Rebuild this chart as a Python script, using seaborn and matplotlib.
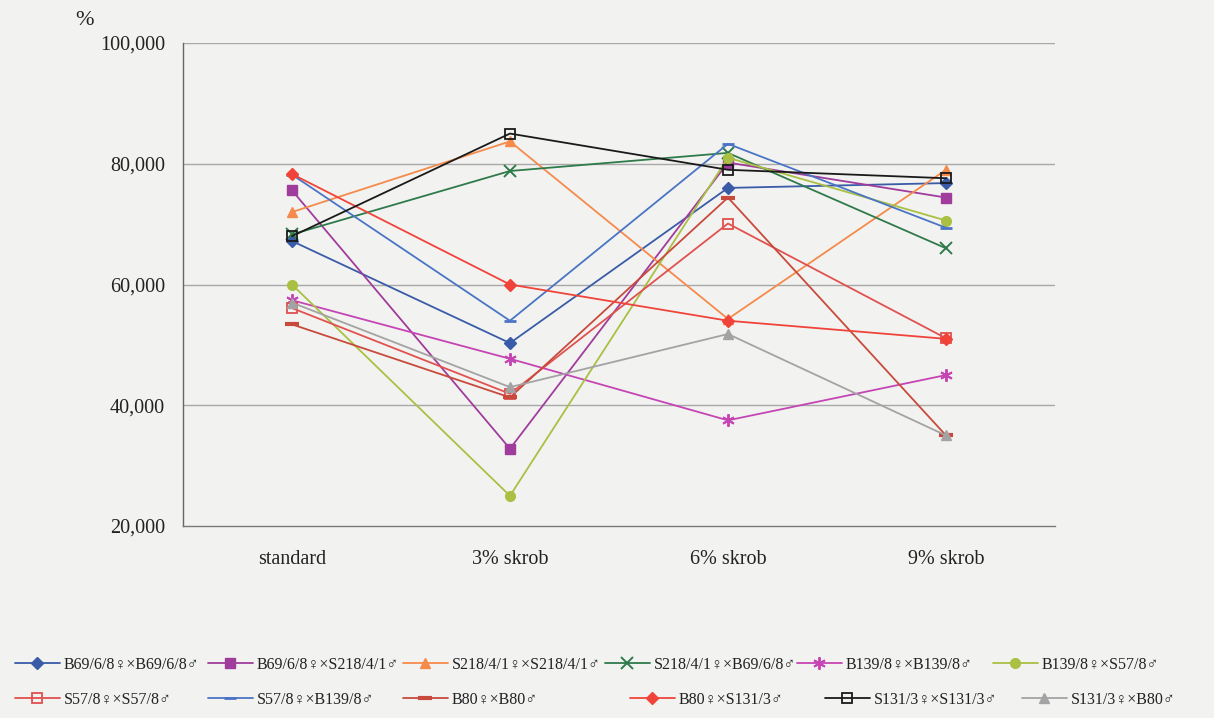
import matplotlib
matplotlib.use("Agg")
import matplotlib.pyplot as plt
from matplotlib.ticker import FixedLocator, FuncFormatter
import seaborn as sns
import pandas as pd

# --- data -------------------------------------------------------------
categories = ["standard", "3% skrob", "6% skrob", "9% skrob"]

series_names = [
    "B69/6/8♀×B69/6/8♂",
    "B69/6/8♀×S218/4/1♂",
    "S218/4/1♀×S218/4/1♂",
    "S218/4/1♀×B69/6/8♂",
    "B139/8♀×B139/8♂",
    "B139/8♀×S57/8♂",
    "S57/8♀×S57/8♂",
    "S57/8♀×B139/8♂",
    "B80♀×B80♂",
    "B80♀×S131/3♂",
    "S131/3♀×S131/3♂",
    "S131/3♀×B80♂",
]

b69_b69 = [67.2, 50.3, 76.0, 76.8]
b69_s218 = [75.6, 32.8, 80.2, 74.4]
s218_s218 = [72.0, 83.7, 54.3, 79.0]
s218_b69 = [68.3, 78.8, 81.8, 66.0]
b139_b139 = [57.4, 47.7, 37.5, 45.0]
b139_s57 = [60.0, 25.0, 81.0, 70.6]
s57_s57 = [56.1, 41.9, 70.1, 51.1]
s57_b139 = [78.2, 54.0, 83.3, 69.4]
b80_b80 = [53.4, 41.3, 74.4, 35.0]
b80_s131 = [78.3, 60.0, 54.0, 51.0]
s131_s131 = [68.0, 85.0, 79.0, 77.6]
s131_b80 = [57.0, 43.0, 51.8, 35.0]

series_values = [b69_b69, b69_s218, s218_s218, s218_b69, b139_b139, b139_s57,
                 s57_s57, s57_b139, b80_b80, b80_s131, s131_s131, s131_b80]

y_ticks = [20, 40, 60, 80, 100]

# --- styles -----------------------------------------------------------
styles = [
    dict(color="#3a5ba8", marker="D", ms=6, mfc="#3a5ba8"),
    dict(color="#a03c9c", marker="s", ms=7, mfc="#a03c9c"),
    dict(color="#f58a4b", marker="^", ms=7, mfc="#f58a4b"),
    dict(color="#2f7a4a", marker="x", ms=8, mfc="#2f7a4a", mew=1.4),
    dict(color="#c545b4", marker=(6, 2, 0), ms=9, mfc="#c545b4", mew=1.4),
    dict(color="#a9c043", marker="o", ms=7, mfc="#a9c043"),
    dict(color="#e0514f", marker="s", ms=7, mfc="none", mew=1.3),
    dict(color="#4a74c4", marker="_", ms=8, mfc="#4a74c4", mew=2.0),
    dict(color="#c84a3c", marker="_", ms=10, mfc="#c84a3c", mew=3.0),
    dict(color="#f0443a", marker="D", ms=6, mfc="#f0443a"),
    dict(color="#1a1a1a", marker="s", ms=7, mfc="none", mew=1.3),
    dict(color="#a3a3a3", marker="^", ms=7, mfc="#a3a3a3"),
]

bg = "#f2f3f1"
serif = ["Liberation Serif", "DejaVu Serif"]

sns.set_theme(style="white")
plt.rcParams["font.family"] = serif

fig = plt.figure(figsize=(12.14, 7.18), dpi=100, facecolor=bg)
ax = fig.add_axes([0.1507, 0.2674, 0.7183, 0.6727], facecolor=bg)

handles = []
for name, vals, st in zip(series_names, series_values, styles):
    df = pd.DataFrame({"x": range(len(categories)), "y": vals})
    sns.lineplot(data=df, x="x", y="y", ax=ax, color=st["color"], lw=1.3,
                 marker=st["marker"], markersize=st["ms"],
                 markerfacecolor=st["mfc"], markeredgecolor=st["color"],
                 markeredgewidth=st.get("mew", 1.0), label=name, zorder=3)
    handles.append(ax.lines[-1])

if ax.get_legend() is not None:
    ax.get_legend().remove()

# --- axes -------------------------------------------------------------
ax.set_xlim(-0.5, len(categories) - 0.5)
ax.set_ylim(y_ticks[0], y_ticks[-1])
ax.set_xlabel("")
ax.set_ylabel("")

ax.yaxis.set_major_locator(FixedLocator(y_ticks))
ax.yaxis.set_major_formatter(FuncFormatter(lambda v, p: f"{v:.3f}".replace(".", ",")))
ax.set_xticks(range(len(categories)))
ax.set_xticklabels(categories)
ax.set_xticks([i - 0.5 for i in range(len(categories) + 1)], minor=True)

ax.tick_params(axis="y", which="major", direction="out", length=5, width=1,
               color="#666666", labelsize=14.5, labelcolor="#222222", pad=8)
ax.tick_params(axis="x", which="major", length=0, labelsize=14.5,
               labelcolor="#222222", pad=17)
ax.tick_params(axis="x", which="minor", direction="out", length=5, width=1,
               color="#777777")

for v in y_ticks[1:]:
    ax.axhline(v, color="#a8a8a8", lw=1.0, zorder=1)

for side in ("top", "right"):
    ax.spines[side].set_visible(False)
ax.spines["left"].set_color("#666666")
ax.spines["left"].set_linewidth(1.0)
ax.spines["bottom"].set_color("#777777")
ax.spines["bottom"].set_linewidth(1.0)
ax.grid(False)

fig.text(0.062, 0.972, "%", fontsize=16, color="#222222", ha="left", va="center")

# --- legend: two rows, six entries each -------------------------------
row_y = [0.074, 0.025]
row_x = [
    [15, 208, 403, 605, 797, 993],
    [15, 208, 403, 630, 825, 1022],
]
for i, h in enumerate(handles):
    r, c = divmod(i, 6)
    fig.legend([h], [series_names[i]], loc="center left",
               bbox_to_anchor=(row_x[r][c] / 1214, row_y[r]),
               frameon=False, fontsize=11.5, handlelength=2.8,
               handletextpad=0.25, borderpad=0, borderaxespad=0,
               labelcolor="#222222")

fig.savefig("out.png", dpi=100, facecolor=bg)
